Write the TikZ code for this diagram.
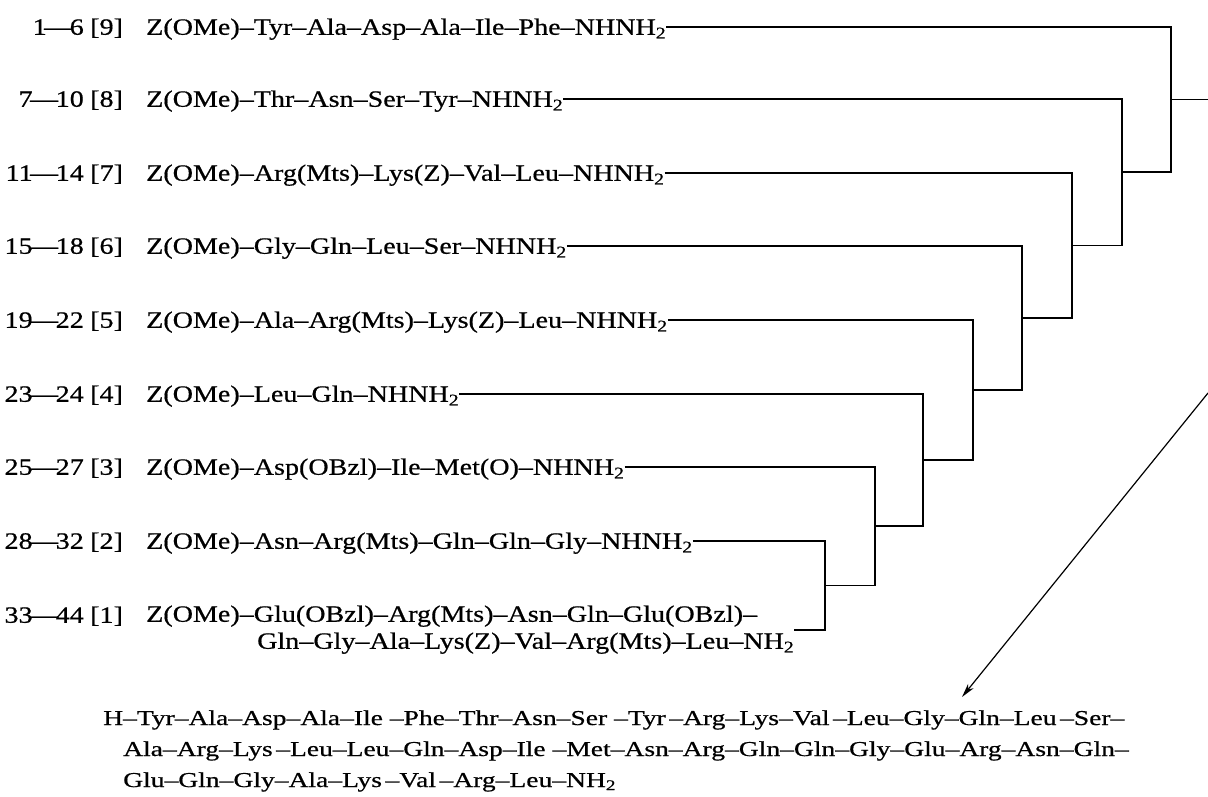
\documentclass[tikz,border=0pt]{standalone}
\usepackage{fontspec}
\setmainfont{Liberation Serif}[FakeStretch=1.2, FakeBold=0.6]
\newfontfamily\prodfont{Liberation Serif}[FakeStretch=1.3, FakeBold=0.6]
\usetikzlibrary{arrows.meta,calc}
\newcommand{\rng}[2]{#1\kern-2.5pt—\kern-2.5pt#2}
\tikzset{
  base/.style={inner sep=0pt, text height=15.5pt, text depth=0pt, font=\fontsize{23.4}{26}\selectfont},
  seq/.style={base, anchor=west},
  lab/.style={base, anchor=east},
  num/.style={base, anchor=west},
  prod/.style={anchor=west, inner sep=0pt, text height=14pt, text depth=0pt, font=\prodfont\fontsize{21.2}{24}\selectfont},
  conn/.style={line width=1.7pt},
}
\begin{document}
\begin{tikzpicture}[x=1pt,y=-1pt]
\useasboundingbox (0,0) rectangle (1208,796);
\node[lab] (l1) at (84,27) {\rng{1}{6}};
\node[lab] (l2) at (84,99) {\rng{7}{10}};
\node[lab] (l3) at (84,173) {\rng{11}{14}};
\node[lab] (l4) at (84,246) {\rng{15}{18}};
\node[lab] (l5) at (84,320) {\rng{19}{22}};
\node[lab] (l6) at (84,394) {\rng{23}{24}};
\node[lab] (l7) at (84,467) {\rng{25}{27}};
\node[lab] (l8) at (84,541) {\rng{28}{32}};
\node[lab] (l9) at (84,615) {\rng{33}{44}};
\node[num] (n1) at (90,27) {[9]};
\node[num] (n2) at (90,99) {[8]};
\node[num] (n3) at (90,173) {[7]};
\node[num] (n4) at (90,246) {[6]};
\node[num] (n5) at (90,320) {[5]};
\node[num] (n6) at (90,394) {[4]};
\node[num] (n7) at (90,467) {[3]};
\node[num] (n8) at (90,541) {[2]};
\node[num] (n9) at (90,615) {[1]};
\node[seq] (s1) at (146,27) {Z(OMe)–Tyr–Ala–Asp–Ala–Ile–Phe–NHNH\textsubscript{2}};
\node[seq] (s2) at (146,99) {Z(OMe)–Thr–Asn–Ser–Tyr–NHNH\textsubscript{2}};
\node[seq] (s3) at (146,173) {Z(OMe)–Arg(Mts)–Lys(Z)–Val–Leu–NHNH\textsubscript{2}};
\node[seq] (s4) at (146,246) {Z(OMe)–Gly–Gln–Leu–Ser–NHNH\textsubscript{2}};
\node[seq] (s5) at (146,320) {Z(OMe)–Ala–Arg(Mts)–Lys(Z)–Leu–NHNH\textsubscript{2}};
\node[seq] (s6) at (146,394) {Z(OMe)–Leu–Gln–NHNH\textsubscript{2}};
\node[seq] (s7) at (146,467) {Z(OMe)–Asp(OBzl)–Ile–Met(O)–NHNH\textsubscript{2}};
\node[seq] (s8) at (146,541) {Z(OMe)–Asn–Arg(Mts)–Gln–Gln–Gly–NHNH\textsubscript{2}};
\node[seq] (s9a) at (146,614) {Z(OMe)–Glu(OBzl)–Arg(Mts)–Asn–Gln–Glu(OBzl)–};
\node[seq] (s9b) at (257,641) {Gln–Gly–Ala–Lys(Z)–Val–Arg(Mts)–Leu–NH\textsubscript{2}};
% product
\node[prod] (p1) at (103,718) {H–Tyr–Ala–Asp–Ala–Ile\ –Phe–Thr–Asn–Ser\ –Tyr\,–Arg–Lys–Val\,–Leu–Gly–Gln–Leu\,–Ser–};
\node[prod] (p2) at (123,749) {Ala–Arg–Lys\,–Leu–Leu–Gln–Asp–Ile\ –Met–Asn–Arg–Gln–Gln–Gly–Glu–Arg–Asn–Gln–};
\node[prod] (p3) at (123,780) {Glu–Gln–Gly–Ala–Lys\,–Val\,–Arg–Leu–NH\textsubscript{2}};
% bracket columns
\coordinate (b2) at (825,541);
\coordinate (b3) at (875,467);
\coordinate (b4) at (923,394);
\coordinate (b5) at (973,320);
\coordinate (b6) at (1022,246);
\coordinate (b7) at (1072,173);
\coordinate (b8) at (1122,99);
\coordinate (b9) at (1171,27);
\coordinate (j1) at (825,630);
% [1]+[2]
\draw[conn] (s8.east) -- (b2) -- (j1) -- (s9b.east |- j1);
\coordinate (o1) at ($(b2)!0.5!(j1)$);
\draw[conn] (s7.east) -- (b3) |- (o1);
\coordinate (o2) at ($(b3)!0.5!(b3 |- o1)$);
\draw[conn] (s6.east) -- (b4) |- (o2);
\coordinate (o3) at ($(b4)!0.5!(b4 |- o2)$);
\draw[conn] (s5.east) -- (b5) |- (o3);
\coordinate (o4) at ($(b5)!0.5!(b5 |- o3)$);
\draw[conn] (s4.east) -- (b6) |- (o4);
\coordinate (o5) at ($(b6)!0.5!(b6 |- o4)$);
\draw[conn] (s3.east) -- (b7) |- (o5);
\coordinate (o6) at ($(b7)!0.5!(b7 |- o5)$);
\draw[conn] (s2.east) -- (b8) |- (o6);
\coordinate (o7) at ($(b8)!0.5!(b8 |- o6)$);
\draw[conn] (s1.east) -- (b9) |- (o7);
\coordinate (o8) at ($(b9)!0.5!(b9 |- o7)$);
\coordinate (edge1) at (1208,0);
\draw[conn] (o8) -- (o8 -| edge1);
% arrow to the product
\coordinate (a0) at (1208,393);
\coordinate (a1) at (962,697);
\draw[line width=1.2pt,-{Stealth[length=14pt,width=7pt,inset=4pt]}] (a0) -- (a1);
\end{tikzpicture}
\end{document}
